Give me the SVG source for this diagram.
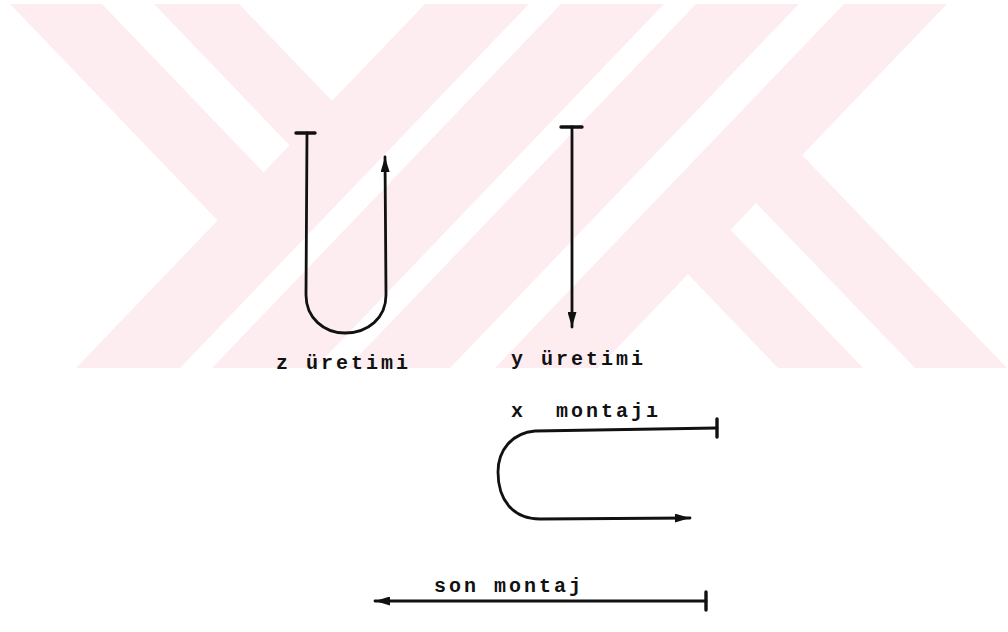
<svg xmlns="http://www.w3.org/2000/svg" width="1008" height="632" viewBox="0 0 1008 632">
<style>
.wm{fill:#fdedf0;stroke:none}
.ln{fill:none;stroke:#111;stroke-width:2.8;stroke-linecap:round;stroke-linejoin:round}
.bar{fill:none;stroke:#111;stroke-width:3.4;stroke-linecap:round}
.lbl{font-family:"Liberation Mono","DejaVu Sans Mono",monospace;font-size:20px;letter-spacing:3px;fill:#111;font-weight:bold}
</style>
<defs>
<clipPath id="wmclip"><rect x="0" y="4" width="1008" height="364"/></clipPath>
<marker id="ah" viewBox="0 0 15 9" refX="15" refY="4.5" markerWidth="15" markerHeight="9" markerUnits="userSpaceOnUse" orient="auto">
<path d="M0,0 L15,4.5 L0,9 z" fill="#111"/>
</marker>
</defs>
<rect width="1008" height="632" fill="#fff"/>
<g id="watermark" clip-path="url(#wmclip)">
<polygon class="wm" points="425,4 529,4 180,368 76,368"/>
<polygon class="wm" points="561,4 664,4 315,368 212,368"/>
<polygon class="wm" points="696,4 799,4 450,368 347,368"/>
<polygon class="wm" points="844,4 947,4 598,368 495,368"/>
<polygon class="wm" points="10,4 102,4 315,226 269,274"/>
<polygon class="wm" points="154,4 239,4 384,155 341,199"/>
<polygon class="wm" points="776,128 1007,368 915,368 730,176"/>
<polygon class="wm" points="705,203 863,368 778,368 662,247"/>
</g>
<g id="connectors">
<g id="z-uretimi">
<line class="bar" x1="296" y1="133" x2="315" y2="133"/>
<path class="ln" d="M307,133 L306,295 C306,318 324,333 345,333 C368,333 386,318 386,295 L385,157" marker-end="url(#ah)"/>
</g>
<g id="y-uretimi">
<line class="bar" x1="561" y1="127" x2="582" y2="127"/>
<path class="ln" d="M572,127 L572,327" marker-end="url(#ah)"/>
</g>
<g id="x-montaji">
<line class="bar" x1="717" y1="419" x2="717" y2="437"/>
<path class="ln" d="M717,428 L535,431 C512,433 498,450 498,472 C498,500 513,519 540,519 L690,518" marker-end="url(#ah)"/>
</g>
<g id="son-montaj">
<line class="bar" x1="706" y1="592" x2="706" y2="610"/>
<path class="ln" d="M706,601 L375,601" marker-end="url(#ah)"/>
</g>
</g>
<g id="labels">
<text class="lbl" x="276" y="369">z üretimi</text>
<text class="lbl" x="511" y="365">y üretimi</text>
<text class="lbl" x="511" y="417" xml:space="preserve">x  montajı</text>
<text class="lbl" x="434" y="592">son montaj</text>
</g>
</svg>
